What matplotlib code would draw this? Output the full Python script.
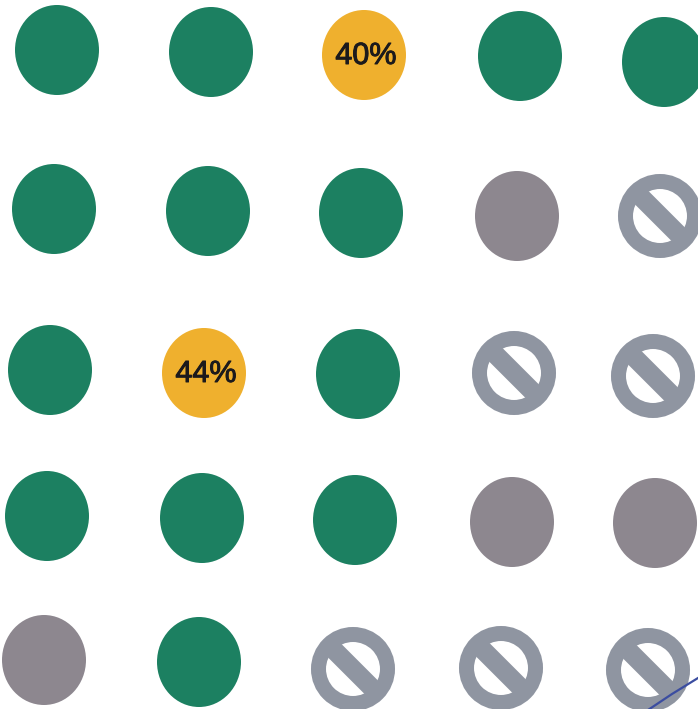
import numpy as np
import matplotlib
matplotlib.use('Agg')
import matplotlib.pyplot as plt
import matplotlib.patheffects as pe
from matplotlib.patches import Ellipse

# --- DATA ---
# pixel position of each dot, row by row
row1_x = [57, 211, 364, 520, 664]
row1_y = [50, 52, 55, 56, 62]
row2_x = [54, 208, 361, 517, 660]
row2_y = [209, 211, 213, 216, 216]
row3_x = [50, 204, 358, 514, 653]
row3_y = [370, 373, 374, 373, 376]
row4_x = [47, 202, 355, 512, 655]
row4_y = [516, 518, 520, 522, 523]
row5_x = [44, 199, 353, 501, 648]
row5_y = [660, 662, 669, 668, 670]

# g = green, o = orange, s = solid grey, n = crossed out
row1_kind = ['g', 'g', 'o', 'g', 'g']
row2_kind = ['g', 'g', 'g', 's', 'n']
row3_kind = ['g', 'o', 'g', 'n', 'n']
row4_kind = ['g', 'g', 'g', 's', 's']
row5_kind = ['s', 'g', 'n', 'n', 'n']

row1_text = ['', '', '40%', '', '']
row3_text = ['', '44%', '', '', '']
row_empty = ['', '', '', '', '']

colors = {'g': '#1c8061', 'o': '#efb02e', 's': '#8d878f', 'n': '#8f95a1'}

xs = row1_x + row2_x + row3_x + row4_x + row5_x
ys = row1_y + row2_y + row3_y + row4_y + row5_y
kinds = row1_kind + row2_kind + row3_kind + row4_kind + row5_kind
texts = row1_text + row_empty + row3_text + row_empty + row_empty

# pen stroke in the bottom right corner of the scan
pen_x = [648, 672, 698]
pen_y = [710, 694, 678]

fig = plt.figure(figsize=(6.98, 7.09), dpi=100)
ax = fig.add_axes([0, 0, 1, 1])
ax.set_xlim(0, 698)
ax.set_ylim(709, 0)
ax.axis('off')

for x, y, kind, label in zip(xs, ys, kinds, texts):
    if kind == 'n':
        # ring plus diagonal bar
        r = 42
        ring = 15
        bar = 19
        ax.add_patch(Ellipse((x, y), 2 * r - ring, 2 * r - ring, fc='none', ec=colors[kind], lw=ring * 0.72))
        d = (r - ring / 2) * np.cos(np.pi / 4)
        ax.plot([x - d, x + d], [y - d, y + d], color=colors[kind], lw=bar * 0.72, solid_capstyle='butt')
    else:
        ax.add_patch(Ellipse((x, y), 84, 90, fc=colors[kind], ec='none'))
    if label:
        ax.text(x + 2, y + 1, label, ha='center', va='center', fontsize=22, color='#1c1a1c',
                family='Liberation Sans',
                path_effects=[pe.withStroke(linewidth=0.7, foreground='#1c1a1c')])

ax.plot(pen_x, pen_y, color='#3b4da0', lw=1.6)

fig.savefig('out.png', dpi=100)
